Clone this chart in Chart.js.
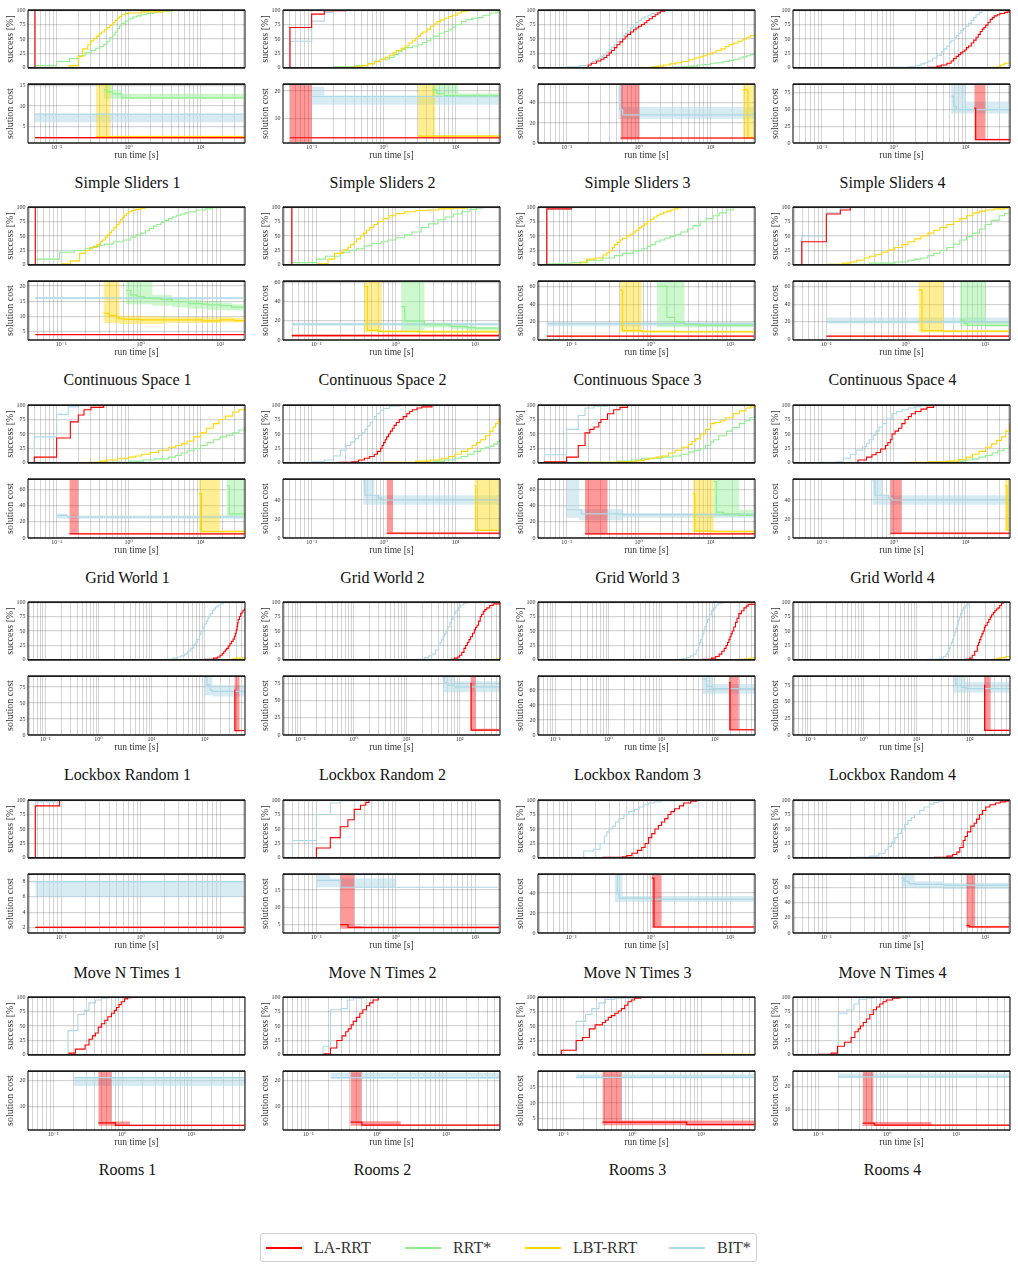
<!DOCTYPE html>
<html><head><meta charset="utf-8">
<script src="https://cdn.jsdelivr.net/npm/chart.js@4.4.1/dist/chart.umd.min.js"></script>
<style>
html,body{margin:0;padding:0;background:#fff;}
body{width:1018px;height:1269px;position:relative;overflow:hidden;font-family:'Liberation Serif','DejaVu Serif',serif;}
canvas{position:absolute;}
.ptitle{position:absolute;width:255px;text-align:center;font-size:16px;line-height:18px;color:#111;}
.legend{position:absolute;left:260px;top:1233px;width:495px;height:27px;border:1px solid #cfcfcf;border-radius:3px;background:#fff;}
.lg-line{position:absolute;top:13px;width:36px;height:2px;}
.lg-text{position:absolute;top:5px;font-size:16px;line-height:18px;color:#333;}
</style></head><body>
<script>
// ---------------- DATA ----------------
// success arrays: [time, success%, ...]; cost arrays: [time, median, low, high, ...]
const seriesNames = ['LA-RRT','RRT*','LBT-RRT','BIT*'];
const panelTitles = ['Simple Sliders 1','Simple Sliders 2','Simple Sliders 3','Simple Sliders 4',
 'Continuous Space 1','Continuous Space 2','Continuous Space 3','Continuous Space 4',
 'Grid World 1','Grid World 2','Grid World 3','Grid World 4',
 'Lockbox Random 1','Lockbox Random 2','Lockbox Random 3','Lockbox Random 4',
 'Move N Times 1','Move N Times 2','Move N Times 3','Move N Times 4',
 'Rooms 1','Rooms 2','Rooms 3','Rooms 4'];
const rowTimeRange = [[0.04,41.4],[0.038,20.6],[0.04,41.4],[0.047,578],[0.038,20.6],[0.043,60.7]];
const successTicks = [0,25,50,75,100];
const xMajorValues = [0.1,1,10,100];
const xMajorLabels = ['10\u207B\u00B9','10\u2070','10\u00B9','10\u00B2'];
const costRange = [[0.9,15.4],[1.1,22.5],[0,58.7],[0,88],
 [2.2,21.6],[0,61.7],[-0.5,66],[-0.5,66],
 [0,73],[0,62],[0,73],[0,62],
 [0,92],[0,85.5],[0,78.7],[0,89],
 [1.25,9],[2.6,19.6],[0,59],[0,77.5],
 [1.1,23.7],[1.1,23.7],[1.5,20],[1,26.7]];
const costTicks = [[5,10,15],[10,20],[0,20,40],[0,25,50,75],
 [5,10,15,20],[0,20,40,60],[0,20,40,60],[0,20,40,60],
 [0,20,40,60],[0,20,40],[0,20,40,60],[0,20,40],
 [0,25,50,75],[0,25,50,75],[0,20,40,60],[0,25,50,75],
 [2,4,6,8],[5,10,15],[0,20,40],[0,20,40,60],
 [10,20],[10,20],[5,10,15],[10,20]];

// Simple Sliders 1
const ss1_succ_la = [0.049,0, 0.05,100, 41,100];
const ss1_succ_rrt = [0.05,4, 0.1,11, 0.15,16, 0.2,21, 0.25,26, 0.3,30, 0.35,34, 0.4,37, 0.45,40, 0.5,46, 0.55,52, 0.6,57, 0.65,62, 0.7,68, 0.75,73, 0.8,77, 0.9,81, 1.0,85, 1.15,88, 1.3,90, 1.5,92, 1.8,94, 2.2,96, 2.5,97, 3,98, 4,100, 41,100];
const ss1_succ_lbt = [0.05,0, 0.15,4, 0.2,20, 0.23,33, 0.27,40, 0.3,47, 0.33,51, 0.36,55, 0.39,59, 0.42,62, 0.46,66, 0.5,70, 0.55,74, 0.6,78, 0.65,82, 0.7,86, 0.75,89, 0.8,92, 0.9,94, 1.0,95, 1.5,97, 3,99, 4,100, 41,100];
const ss1_succ_bit = [0.049,0, 0.05,100, 41,100];
const ss1_cost_la = [0.05,2.2,2.0,2.4, 41,2.2,2.0,2.4];
const ss1_cost_rrt = [0.45,14,11.8,20, 0.5,13.5,11.8,20, 0.6,13,11.8,14, 0.8,12,11.8,13, 41,12,11.8,13];
const ss1_cost_lbt = [0.35,2.5,2.2,20, 0.56,2.5,2.2,2.7, 41,2.5,2.2,2.7];
const ss1_cost_bit = [0.05,8,6,8, 41,8,6,8];
// Simple Sliders 2
const ss2_succ_la = [0.049,0, 0.05,70, 0.1,93, 0.15,99, 0.3,100, 41,100];
const ss2_succ_rrt = [0.05,0, 0.2,2, 0.4,4, 0.6,8, 0.75,12, 0.9,15, 1.2,18, 1.4,23, 1.6,28, 1.8,32, 2.0,35, 2.5,38, 3,40, 3.5,44, 4,47, 4.5,51, 5,55, 6,60, 7,63, 8,66, 9,70, 10,75, 12,80, 14,84, 17,86, 20,87, 24,91, 30,95, 36,96, 41,97];
const ss2_succ_lbt = [0.05,0, 0.3,1, 0.4,2, 0.5,4, 0.6,7, 0.75,11, 0.9,15, 1.05,18, 1.2,22, 1.35,26, 1.5,30, 1.75,34, 2.0,38, 2.25,43, 2.5,47, 2.75,51, 3.0,55, 3.25,59, 3.5,62, 4.0,67, 4.5,72, 5.0,76, 5.5,80, 6.2,83, 7,86, 8,89, 9,91, 10.5,95, 12,98, 15,100, 41,100];
const ss2_succ_bit = [0.049,0, 0.05,46, 0.1,81, 0.15,96, 0.2,100, 41,100];
const ss2_cost_la = [0.05,3,1.5,30, 0.1,3,2.7,3.3, 41,3,2.7,3.3];
const ss2_cost_rrt = [4.7,20.5,17.8,30, 5.5,19,17.8,30, 7,18.3,17.8,30, 10.9,18.3,17.6,19.2, 41,18.3,17.6,19.2];
const ss2_cost_lbt = [3.0,3.6,3.3,30, 5.2,3.6,3.3,3.9, 41,3.6,3.3,3.9];
const ss2_cost_bit = [0.1,18,15,21.5, 0.15,18,15,18.4, 41,18,15,18.4];
// Simple Sliders 3
const ss3_succ_la = [0.05,0, 0.2,5, 0.22,8, 0.26,12, 0.3,15, 0.33,18, 0.36,22, 0.39,26, 0.42,30, 0.46,35, 0.5,40, 0.55,45, 0.6,50, 0.65,54, 0.7,58, 0.77,62, 0.85,66, 0.92,69, 1.0,72, 1.1,75, 1.2,78, 1.3,82, 1.4,85, 1.55,89, 1.7,92, 1.85,95, 2.0,98, 2.3,100, 41,100];
const ss3_succ_rrt = [0.05,0, 3,1, 4,2, 5,3, 6.5,5, 7.8,6, 10,8, 12,9, 15,11, 18,13, 21,15, 25,17, 28,19, 32,21, 36,23, 41,26];
const ss3_succ_lbt = [0.05,0, 1.5,2, 1.8,3, 2.2,5, 2.7,7, 3.3,9, 4,11, 5,14, 6,17, 7,19, 7.8,21, 9,24, 10.5,27, 12,30, 14,33, 16,37, 18,40, 21,43, 24,46, 28,50, 32,53, 36,56, 41,58];
const ss3_succ_bit = [0.05,0, 0.1,2, 0.15,4, 0.2,8, 0.23,11, 0.25,14, 0.28,17, 0.3,20, 0.33,24, 0.36,28, 0.39,32, 0.42,36, 0.46,41, 0.5,46, 0.55,51, 0.6,56, 0.65,60, 0.7,64, 0.77,70, 0.85,75, 0.92,79, 1.0,82, 1.1,85, 1.2,88, 1.35,91, 1.5,94, 1.75,96, 2,97, 2.3,99, 2.7,100, 41,100];
const ss3_cost_la = [0.56,5,3.5,80, 1.03,5,4.3,5.6, 41,5,4.3,5.6];
const ss3_cost_rrt = [];
const ss3_cost_lbt = [28,53,4,80, 33,5,4,80, 41,5,4,80];
const ss3_cost_bit = [0.52,60,24,80, 0.55,33,24,80, 0.6,28,24,36, 41,28,24,36];
// Simple Sliders 4
const ss4_succ_la = [0.05,0, 3,1, 4,3, 4.6,5, 5.5,8, 6.3,12, 6.8,16, 7.4,20, 8,23, 8.5,26, 9,28, 9.6,31, 10.3,35, 11,38, 12,43, 13,48, 14,53, 15,58, 16,63, 17,67, 18,70, 19,74, 20.5,79, 22,84, 23.5,87, 25,90, 27.5,92, 30,94, 35,96, 38,97, 41,98];
const ss4_succ_rrt = [0.05,0, 41,0];
const ss4_succ_lbt = [0.05,0, 22,1, 28,2, 30,3, 31,5, 34,7, 36,8, 41,9];
const ss4_succ_bit = [0.05,0, 0.8,1, 1.6,2, 2,4, 2.4,7, 2.7,9, 3,12, 3.5,17, 4,22, 4.6,28, 5,33, 5.5,38, 6,44, 6.3,47, 7,52, 7.5,56, 8,60, 8.6,65, 9.3,68, 10,72, 11,77, 12,82, 13,87, 14,92, 15.5,96, 17,100, 41,100];
const ss4_cost_la = [13.2,52,4,120, 13.8,5,4,120, 18.9,5,4,6.5, 41,5,4,6.5];
const ss4_cost_rrt = [];
const ss4_cost_lbt = [];
const ss4_cost_bit = [6.3,70,44,120, 6.8,55,44,120, 7.5,50,44,120, 10,50,44,62, 41,50,44,62];
// Continuous Space 1
const cs1_succ_la = [0.046,0, 0.047,100, 20,100];
const cs1_succ_rrt = [0.047,10, 0.095,22, 0.146,25, 0.2,28, 0.25,32, 0.3,34, 0.35,36, 0.45,40, 0.6,43, 0.75,48, 0.87,52, 1.0,55, 1.15,59, 1.3,63, 1.45,67, 1.6,70, 1.8,74, 2.0,77, 2.25,80, 2.5,83, 2.8,86, 3.2,88, 3.6,90, 4,92, 5,95, 6.5,97, 8,99, 10,100, 20,100];
const cs1_succ_lbt = [0.047,0, 0.1,2, 0.13,7, 0.17,20, 0.2,25, 0.23,30, 0.28,35, 0.31,40, 0.33,43, 0.36,48, 0.38,52, 0.41,56, 0.43,60, 0.46,65, 0.5,70, 0.53,74, 0.56,78, 0.59,82, 0.62,86, 0.66,89, 0.7,92, 0.77,94, 0.85,96, 1.0,98, 1.15,100, 20,100];
const cs1_succ_bit = [0.046,0, 0.047,100, 20,100];
const cs1_cost_la = [0.047,4,3.9,4.1, 20,4,3.9,4.1];
const cs1_cost_rrt = [0.65,18.5,14,30, 0.75,17,14,30, 0.9,16.5,14,30, 1.1,16,14,30, 1.4,15.8,13.5,17, 1.8,15.5,13.5,17, 2.5,14.8,13,16, 4,14.2,12.5,15.5, 6,14,12.5,15, 7,13.8,12.2,15, 10,13.5,12,14.5, 14,13,12,14, 20,13,12,14];
const cs1_cost_lbt = [0.34,11,7.8,30, 0.4,10.3,7.8,30, 0.5,9.5,7.8,30, 0.54,9.2,7.5,10.2, 0.6,9,7.5,10.2, 1,8.8,7.5,10, 2,8.8,7.8,9.8, 3,8.8,7.8,9.8, 6,8.5,7.8,9.7, 10,8.8,8,9.7, 15,8.6,8,9.5, 20,8.8,8,9.5];
const cs1_cost_bit = [0.047,16,15.7,16.3, 20,16,15.7,16.3];
// Continuous Space 2
const cs2_succ_la = [0.048,0, 0.049,100, 20,100];
const cs2_succ_rrt = [0.049,4, 0.1,10, 0.13,15, 0.2,22, 0.26,25, 0.32,28, 0.4,33, 0.5,37, 0.65,40, 0.8,43, 1.0,47, 1.3,52, 1.6,57, 2.1,65, 2.6,71, 3.4,78, 4.2,83, 5.3,88, 6.8,92, 8.6,96, 10.5,98, 12.5,100, 20,100];
const cs2_succ_lbt = [0.049,0, 0.105,2, 0.14,10, 0.17,20, 0.22,26, 0.25,30, 0.27,35, 0.3,40, 0.32,45, 0.36,50, 0.39,55, 0.43,60, 0.47,65, 0.53,70, 0.59,75, 0.7,80, 0.82,85, 1.0,89, 1.3,92, 1.8,94, 2.5,95, 3.5,97, 5.3,98, 8,100, 20,100];
const cs2_succ_bit = [0.048,0, 0.049,100, 20,100];
const cs2_cost_la = [0.049,4.5,3.5,6, 20,4.5,3.5,6];
const cs2_cost_rrt = [1.17,35,10,80, 1.3,20,10,80, 2.3,16,13,18, 5,14,11,16, 8,13,10,15, 10,12.5,10,14, 20,12,10,14];
const cs2_cost_lbt = [0.4,56,8,80, 0.44,10,8,80, 0.6,9,8,80, 0.67,9,7.5,10, 2,8.5,7.5,10, 20,8.2,7.5,9.5];
const cs2_cost_bit = [0.049,16.7,15,18, 20,16.7,15,18];
// Continuous Space 3
const cs3_succ_la = [0.048,0, 0.049,97, 0.1,100, 20,100];
const cs3_succ_rrt = [0.049,2, 0.1,4, 0.16,8, 0.25,12, 0.35,16, 0.44,20, 0.6,24, 0.77,28, 0.9,32, 1.0,35, 1.14,40, 1.3,43, 1.5,46, 1.75,49, 2.0,52, 2.4,57, 2.9,62, 3.4,68, 4.2,75, 5,80, 6.1,85, 7.3,90, 9,95, 11,100, 20,100];
const cs3_succ_lbt = [0.049,0, 0.1,1, 0.13,5, 0.156,10, 0.2,12, 0.25,17, 0.28,21, 0.3,25, 0.33,30, 0.35,35, 0.38,39, 0.41,43, 0.44,46, 0.5,50, 0.55,53, 0.6,57, 0.65,60, 0.71,64, 0.77,67, 0.84,71, 0.9,75, 1.0,79, 1.1,83, 1.2,86, 1.3,88, 1.45,91, 1.6,93, 1.8,95, 2.0,97, 2.2,99, 2.4,100, 20,100];
const cs3_succ_bit = [0.048,0, 0.049,96, 0.1,100, 20,100];
const cs3_cost_la = [0.049,3.8,3.3,4.3, 20,3.8,3.3,4.3];
const cs3_cost_rrt = [1.19,60,14,80, 1.6,25,14,80, 2.0,20,14,80, 2.67,17.3,14,18.5, 4,16,14,18, 20,15.5,14,17];
const cs3_cost_lbt = [0.41,56,8,80, 0.44,10,8,80, 0.77,9,8,10.5, 2,8.7,8,10, 20,8.5,8,10];
const cs3_cost_bit = [0.049,18,15,19.5, 20,18,15,19.5];
// Continuous Space 4
const cs4_succ_la = [0.048,0, 0.049,40, 0.1,88, 0.15,95, 0.2,100, 20,100];
const cs4_succ_rrt = [0.049,0, 0.1,1, 0.35,3, 0.73,5, 1.07,8, 1.3,10, 1.55,12, 1.9,16, 2.26,20, 2.7,25, 3.3,30, 4,36, 4.8,43, 5.8,49, 7,55, 8.5,62, 10,70, 12,77, 15,85, 17.5,89, 20,92];
const cs4_succ_lbt = [0.049,0, 0.1,1, 0.16,3, 0.2,5, 0.24,8, 0.3,12, 0.35,15, 0.42,18, 0.5,22, 0.6,26, 0.73,30, 0.9,35, 1.07,40, 1.3,45, 1.55,50, 1.9,55, 2.26,60, 2.7,65, 3.3,70, 4,75, 4.8,80, 5.8,85, 7,90, 8.5,93, 10,95, 13,97, 17.5,98, 20,98];
const cs4_succ_bit = [0.048,0, 0.049,50, 0.1,90, 0.15,98, 0.2,100, 20,100];
const cs4_cost_la = [0.1,3.8,3.3,4.3, 20,3.8,3.3,4.3];
const cs4_cost_rrt = [4.8,22,15,80, 5.5,18,15,80, 6,16,15,80, 10.2,16,14.5,20, 20,16,14.5,20];
const cs4_cost_lbt = [1.45,56,8,80, 1.6,10,8,80, 3.0,9.5,8,10.5, 20,9,8,10];
const cs4_cost_bit = [0.1,20,18,25, 20,20,18,25];
// Grid World 1
const gw1_succ_la = [0.048,0, 0.049,10, 0.1,43, 0.155,71, 0.2,83, 0.24,92, 0.3,96, 0.45,100, 41,100];
const gw1_succ_rrt = [0.049,0, 0.45,1, 1.0,3, 1.6,5, 2.3,7, 3.6,10, 4.5,13, 5.4,17, 6.5,21, 8.1,25, 10,30, 12.3,35, 15,40, 18.6,45, 23,48, 28,52, 34,57, 41,62];
const gw1_succ_lbt = [0.049,0, 0.27,1, 0.4,3, 0.5,5, 0.7,8, 1.0,10, 1.25,12, 1.5,15, 2.0,18, 2.6,22, 3.6,27, 4.5,30, 5.4,33, 6.5,38, 8.1,45, 10,52, 12,60, 15,68, 18,75, 22,81, 28,88, 34,92, 41,95];
const gw1_succ_bit = [0.048,0, 0.049,45, 0.1,84, 0.145,97, 0.2,100, 41,100];
const gw1_cost_la = [0.15,5,4.5,100, 0.2,5,4.5,5.5, 41,5,4.5,5.5];
const gw1_cost_rrt = [23,65,27,100, 25,30,27,100, 41,28,27,100];
const gw1_cost_lbt = [9.5,55,7,100, 10.3,8,7,100, 18.6,8,7,9.5, 41,8,7,9.5];
const gw1_cost_bit = [0.1,28,24,30, 0.14,26,24,28, 41,26,24,28];
// Grid World 2
const gw2_succ_la = [0.049,0, 0.24,1, 0.36,2, 0.45,5, 0.54,8, 0.64,11, 0.74,15, 0.82,20, 0.91,25, 0.95,30, 1.0,35, 1.05,40, 1.1,45, 1.17,50, 1.24,55, 1.32,60, 1.4,65, 1.5,70, 1.65,75, 1.87,80, 2.1,85, 2.3,89, 2.5,92, 2.9,95, 3.4,97, 4.7,100, 41,100];
const gw2_succ_rrt = [0.049,0, 2.8,1, 5,3, 7,5, 9.8,8, 12,11, 14.8,15, 18,20, 22.4,25, 26,27, 30,29, 34,33, 38,37, 41,40];
const gw2_succ_lbt = [0.049,0, 1.0,1, 2.8,3, 4.5,5, 6.4,8, 8,11, 9.8,15, 12,20, 14.8,25, 17,30, 19.5,35, 22,40, 26,47, 30,55, 33,62, 36,68, 39,73, 41,78];
const gw2_succ_bit = [0.049,0, 0.1,2, 0.15,5, 0.2,12, 0.25,22, 0.3,30, 0.35,36, 0.4,42, 0.45,47, 0.5,52, 0.55,58, 0.6,64, 0.65,70, 0.7,75, 0.75,80, 0.8,85, 0.9,91, 1.0,94, 1.2,98, 1.7,100, 41,100];
const gw2_cost_la = [1.1,5,4,100, 1.35,5,4,6, 41,5,4,6];
const gw2_cost_rrt = [];
const gw2_cost_lbt = [18.3,55,7,100, 19,8,7,100, 41,7.7,7,100];
const gw2_cost_bit = [0.52,60,35,100, 0.55,45,35,100, 0.74,45,35,45, 0.85,42,35,45, 0.95,40,35,45, 41,40,35,45];
// Grid World 3
const gw3_succ_la = [0.048,0, 0.049,2, 0.1,10, 0.145,30, 0.18,52, 0.21,58, 0.24,62, 0.28,70, 0.3,75, 0.37,85, 0.45,92, 0.55,96, 0.7,100, 41,100];
const gw3_succ_rrt = [0.049,0, 0.145,1, 0.5,3, 0.8,5, 1.1,8, 2.1,10, 3,12, 3.9,15, 5,19, 6,22, 7.3,25, 8.5,30, 10,36, 11,40, 13,47, 16.7,55, 20,61, 25,68, 30,73, 35,78, 41,82];
const gw3_succ_lbt = [0.049,0, 0.145,1, 0.5,2, 0.93,4, 1.2,6, 1.4,8, 1.75,10, 2.1,12, 2.6,17, 3.2,22, 4,27, 4.9,32, 5.5,37, 6.2,42, 7.3,50, 8.5,58, 10,68, 11.5,70, 13.6,73, 16,78, 20.6,85, 25,90, 31,95, 36,97, 41,98];
const gw3_succ_bit = [0.048,0, 0.049,14, 0.1,58, 0.145,82, 0.18,95, 0.24,98, 0.37,100, 41,100];
const gw3_cost_la = [0.18,5,4.5,100, 0.37,5,4.5,5.5, 41,5,4.5,5.5];
const gw3_cost_rrt = [11,70,27,100, 12,32,27,100, 15,30,27,100, 25,28,27,35, 41,28,27,35];
const gw3_cost_lbt = [5.7,55,7,100, 6,8.5,7,100, 11,8,7,9.5, 41,8,7,9.5];
const gw3_cost_bit = [0.1,35,25,100, 0.15,35,22,36, 0.16,30,22,36, 0.6,29,25,31, 41,28,25,31];
// Grid World 4
const gw4_succ_la = [0.049,0, 0.32,5, 0.42,10, 0.5,14, 0.57,18, 0.66,24, 0.77,30, 0.83,35, 0.9,40, 0.95,50, 1.05,55, 1.17,60, 1.3,68, 1.44,75, 1.6,80, 1.76,85, 2.0,89, 2.4,93, 2.9,96, 3.6,100, 41,100];
const gw4_succ_rrt = [0.049,0, 5.5,1, 8,3, 10,5, 12.5,7, 15.4,10, 19,13, 23.4,17, 28,21, 34,25, 41,30];
const gw4_succ_lbt = [0.049,0, 1.6,1, 3,2, 5.5,3, 8,6, 10.2,10, 12.5,15, 15.4,20, 19,27, 23,33, 27,39, 31.6,45, 36,55, 41,68];
const gw4_succ_bit = [0.049,0, 0.1,1, 0.16,2, 0.2,8, 0.25,15, 0.3,22, 0.37,28, 0.42,34, 0.46,40, 0.52,48, 0.57,55, 0.63,62, 0.7,68, 0.8,76, 0.95,85, 1.1,89, 1.3,92, 1.6,95, 1.95,97, 2.4,99, 2.95,100, 41,100];
const gw4_cost_la = [0.9,5,4,100, 1.3,5,4,6, 41,5,4,6];
const gw4_cost_rrt = [];
const gw4_cost_lbt = [35,55,7,100, 37.5,8.5,7,100, 41,8.5,7,100];
const gw4_cost_bit = [0.51,60,35,100, 0.55,45,35,100, 0.7,45,35,45, 0.85,42,35,45, 0.95,40,35,45, 41,40,35,45];
// Lockbox Random 1
const lr1_succ_la = [0.047,0, 100,1, 148,3, 175,5, 196,8, 215,11, 230,14, 245,17, 260,20, 280,24, 300,28, 320,32, 345,36, 365,41, 380,46, 395,52, 410,58, 420,64, 430,70, 455,75, 480,80, 505,83, 530,86, 565,89];
const lr1_succ_rrt = [0.047,0, 565,0];
const lr1_succ_lbt = [0.047,0, 300,1, 340,2, 380,3, 565,4];
const lr1_succ_bit = [0.047,0, 18,1, 25,3, 31,5, 36,7, 42,10, 48,15, 55,20, 62,26, 68,30, 73,35, 80,43, 85,50, 92,56, 100,62, 108,67, 115,72, 122,76, 128,80, 140,85, 150,88, 160,91, 171,93, 185,95, 200,97, 225,100, 565,100];
const lr1_cost_la = [364,70,5,150, 372,7,5,150, 455,7,6,8, 565,7,6,8];
const lr1_cost_rrt = [];
const lr1_cost_lbt = [];
const lr1_cost_bit = [98,90,62,150, 110,78,62,150, 128,70,62,150, 140,68,60,78, 565,68,60,78];
// Lockbox Random 2
const lr2_succ_la = [0.047,0, 69,1, 80,3, 92,5, 100,8, 110,13, 121,20, 130,25, 140,30, 150,35, 160,40, 175,46, 190,52, 200,56, 213,60, 228,67, 245,75, 260,79, 280,84, 300,87, 325,90, 370,94, 430,97, 565,98];
const lr2_succ_rrt = [0.047,0, 565,0];
const lr2_succ_lbt = [0.047,0, 430,1, 500,2, 565,3];
const lr2_succ_bit = [0.047,0, 15,1, 22,4, 26,7, 30,10, 35,17, 40,25, 43,30, 46,35, 49,40, 52,45, 56,51, 60,57, 66,65, 70,70, 75,75, 80,80, 85,85, 95,91, 105,95, 120,98, 140,100, 565,100];
const lr2_cost_la = [160,75,6,150, 165,7,6,150, 200,7,6,9, 565,7,6,9];
const lr2_cost_rrt = [];
const lr2_cost_lbt = [];
const lr2_cost_bit = [48,84,62,150, 52,76,62,150, 60,72,62,150, 80,70,62,78, 565,70,62,78];
// Lockbox Random 3
const lr3_succ_la = [0.047,0, 60,1, 87,3, 105,6, 122,10, 137,15, 152,20, 165,25, 176,30, 186,35, 195,40, 205,45, 215,50, 230,57, 248,65, 265,72, 286,80, 320,85, 358,90, 395,93, 430,96, 565,97];
const lr3_succ_rrt = [0.047,0, 565,0];
const lr3_succ_lbt = [0.047,0, 248,1, 375,2, 470,3, 565,4];
const lr3_succ_bit = [0.047,0, 19.5,1, 25,2, 30,4, 35,7, 40,10, 45,17, 49.5,25, 52,30, 55,35, 58,40, 60,45, 63,52, 66,58, 70,65, 73,70, 80,78, 87,85, 95,90, 106,95, 120,98, 141,100, 565,100];
const lr3_cost_la = [186,70,6,150, 195,7,6,150, 286,7,6,8, 565,7,6,8];
const lr3_cost_rrt = [];
const lr3_cost_lbt = [];
const lr3_cost_bit = [60,75,55,150, 70,65,55,150, 90,62,55,68, 565,62,55,68];
// Lockbox Random 4
const lr4_succ_la = [0.047,0, 85,1, 100,3, 112,8, 125,15, 140,25, 148,30, 155,35, 163,40, 171,45, 180,50, 190,56, 197,60, 215,65, 230,70, 245,74, 260,78, 280,82, 300,85, 320,88, 343,90, 370,94, 398,98, 430,100, 565,100];
const lr4_succ_rrt = [0.047,0, 565,0];
const lr4_succ_lbt = [0.047,0, 260,1, 330,3, 398,4, 480,6, 565,7];
const lr4_succ_bit = [0.047,0, 15.7,1, 27.5,3, 32,6, 36,10, 39,15, 41,20, 43,25, 45.6,30, 48,36, 50,42, 53,48, 55.5,55, 58,61, 61,68, 64,74, 67.6,80, 72,86, 76,90, 85,95, 98,100, 565,100];
const lr4_cost_la = [187,75,6,150, 192,7,6,150, 250,7,6,8, 565,7,6,8];
const lr4_cost_rrt = [];
const lr4_cost_lbt = [];
const lr4_cost_bit = [51,85,64,150, 55,75,64,150, 70,72,64,150, 85,70,64,80, 565,70,64,80];
// Move N Times 1
const mn1_succ_la = [0.046,0, 0.047,90, 0.095,100, 20,100];
const mn1_succ_rrt = [0.047,0, 20,0];
const mn1_succ_lbt = [0.047,0, 20,0];
const mn1_succ_bit = [0.046,0, 0.047,97, 0.095,100, 20,100];
const mn1_cost_la = [0.047,2,1.9,2.1, 20,2,1.9,2.1];
const mn1_cost_rrt = [];
const mn1_cost_lbt = [];
const mn1_cost_bit = [0.047,8,6,8, 20,8,6,8];
// Move N Times 2
const mn2_succ_la = [0.049,0, 0.1,17, 0.15,35, 0.2,54, 0.25,66, 0.3,84, 0.36,91, 0.42,96, 0.46,100, 20,100];
const mn2_succ_rrt = [0.049,0, 20,0];
const mn2_succ_lbt = [0.049,0, 20,0];
const mn2_succ_bit = [0.049,0, 0.05,30, 0.1,75, 0.15,95, 0.2,99, 0.29,100, 20,100];
const mn2_cost_la = [0.2,5,3.8,25, 0.25,4.2,3.8,25, 0.3,4.2,3.8,4.6, 0.37,4.2,3.9,4.4, 20,4.2,3.9,4.4];
const mn2_cost_rrt = [];
const mn2_cost_lbt = [];
const mn2_cost_bit = [0.1,17.8,15.8,21, 0.15,17.8,15.8,18.3, 0.2,15.8,15.8,18.3, 1.02,15.8,15.7,15.9, 20,15.8,15.7,15.9];
// Move N Times 3
const mn3_succ_la = [0.049,0, 0.25,1, 0.44,2, 0.5,4, 0.58,8, 0.68,13, 0.77,18, 0.85,25, 0.94,35, 1.03,42, 1.13,50, 1.25,56, 1.37,62, 1.5,68, 1.65,75, 1.8,80, 2.0,85, 2.3,90, 2.6,95, 3.2,98, 3.8,100, 20,100];
const mn3_succ_rrt = [0.049,0, 20,0];
const mn3_succ_lbt = [0.049,0, 20,0];
const mn3_succ_bit = [0.049,0, 0.143,12, 0.19,15, 0.23,25, 0.26,38, 0.28,45, 0.3,50, 0.33,55, 0.36,62, 0.4,68, 0.46,75, 0.53,80, 0.62,84, 0.71,88, 0.82,92, 0.94,95, 1.1,97, 1.37,99, 2,100, 20,100];
const mn3_cost_la = [1.03,55,5,90, 1.1,6,5,90, 1.37,6,5,7, 20,6,5,7];
const mn3_cost_rrt = [];
const mn3_cost_lbt = [];
const mn3_cost_bit = [0.35,60,31,90, 0.38,40,31,90, 0.4,35,31,90, 0.44,35,31,37, 1,34,31,37, 20,33.5,31,36];
// Move N Times 4
const mn4_succ_la = [0.049,0, 2.3,1, 3.3,3, 3.9,6, 4.4,10, 4.8,18, 5.3,30, 5.6,37, 6,45, 6.6,55, 7.3,60, 7.8,67, 8.5,75, 9.3,82, 10.2,88, 11.5,92, 13.5,95, 15.5,97, 18,98, 20,98];
const mn4_succ_rrt = [0.049,0, 20,0];
const mn4_succ_lbt = [0.049,0, 20,0];
const mn4_succ_bit = [0.049,0, 0.24,1, 0.35,3, 0.46,8, 0.55,14, 0.6,20, 0.66,27, 0.73,35, 0.8,42, 0.88,50, 0.97,58, 1.07,65, 1.18,70, 1.29,75, 1.5,82, 1.7,88, 2.0,93, 2.26,96, 2.6,98, 3,100, 20,100];
const mn4_cost_la = [5.8,10,7,90, 6.3,8,7,90, 7.5,8,7,9, 20,8,7,9];
const mn4_cost_rrt = [];
const mn4_cost_lbt = [];
const mn4_cost_bit = [0.88,72,60,78, 0.95,68,60,78, 1.1,65,60,78, 1.3,64,59,68, 3,63,58,66, 20,62,58,66];
// Rooms 1
const r1_succ_la = [0.045,0, 0.17,3, 0.21,10, 0.29,17, 0.33,27, 0.37,33, 0.41,38, 0.45,48, 0.5,54, 0.56,60, 0.62,66, 0.7,72, 0.77,77, 0.83,82, 0.9,87, 0.97,92, 1.08,97, 1.2,99, 1.34,100, 60,100];
const r1_succ_rrt = [0.045,0, 60,0];
const r1_succ_lbt = [0.045,0, 60,0];
const r1_succ_bit = [0.045,0, 0.164,42, 0.227,70, 0.28,77, 0.33,90, 0.41,95, 0.5,98, 0.63,100, 60,100];
const r1_cost_la = [0.45,3.8,2.7,30, 0.7,3.8,2.7,4.4, 0.8,2.9,2.7,4.4, 1.3,2.9,2.8,3.1, 60,2.9,2.8,3.1];
const r1_cost_rrt = [];
const r1_cost_lbt = [];
const r1_cost_bit = [0.2,21.2,18,21.5, 60,21.2,18,21.5];
// Rooms 2
const r2_succ_la = [0.045,0, 0.17,2, 0.21,12, 0.26,25, 0.31,33, 0.35,40, 0.38,45, 0.42,52, 0.45,58, 0.5,65, 0.56,72, 0.62,78, 0.7,85, 0.78,90, 0.87,95, 1.04,100, 60,100];
const r2_succ_rrt = [0.045,0, 60,0];
const r2_succ_lbt = [0.045,0, 60,0];
const r2_succ_bit = [0.045,0, 0.164,15, 0.21,78, 0.3,80, 0.37,95, 0.45,98, 0.63,100, 60,100];
const r2_cost_la = [0.41,4.1,2.7,30, 0.59,4.1,2.7,4.5, 0.6,3,2.7,4.5, 2.2,3,2.8,3.1, 60,3,2.8,3.1];
const r2_cost_rrt = [];
const r2_cost_lbt = [];
const r2_cost_bit = [0.21,21.2,20.8,23, 60,21.2,20.8,23];
// Rooms 3
const r3_succ_la = [0.045,0, 0.094,8, 0.154,25, 0.19,30, 0.24,45, 0.29,52, 0.37,56, 0.41,60, 0.45,65, 0.5,68, 0.56,72, 0.63,76, 0.7,80, 0.78,86, 0.87,92, 0.97,95, 1.08,98, 1.34,100, 60,100];
const r3_succ_rrt = [0.045,0, 60,0];
const r3_succ_lbt = [0.045,0, 10.4,1, 60,1];
const r3_succ_bit = [0.045,0, 0.154,58, 0.21,70, 0.26,80, 0.33,90, 0.41,96, 0.56,98, 0.97,100, 60,100];
const r3_cost_la = [0.37,4,3,30, 0.7,4,3,4.5, 6.2,3.2,3,4.5, 60,3.2,3,4.3];
const r3_cost_rrt = [];
const r3_cost_lbt = [];
const r3_cost_bit = [0.154,18,17.7,19, 60,18,17.7,19];
// Rooms 4
const r4_succ_la = [0.045,0, 0.1,1, 0.154,3, 0.19,15, 0.24,22, 0.3,30, 0.34,40, 0.38,45, 0.41,50, 0.45,56, 0.5,62, 0.56,70, 0.63,78, 0.7,83, 0.78,88, 0.87,92, 0.97,95, 1.2,98, 1.5,99, 1.6,100, 60,100];
const r4_succ_rrt = [0.045,0, 60,0];
const r4_succ_lbt = [0.045,0, 60,0];
const r4_succ_bit = [0.045,0, 0.195,72, 0.26,78, 0.33,88, 0.39,96, 0.5,98, 0.63,100, 60,100];
const r4_cost_la = [0.44,4,2.7,30, 0.63,4,2.7,4.5, 0.65,3.1,2.7,4.5, 4.4,3.1,2.8,3.3, 60,3.1,2.8,3.3];
const r4_cost_rrt = [];
const r4_cost_lbt = [];
const r4_cost_bit = [0.195,24.2,23.8,25.6, 60,24.2,23.8,25.6];

// ---------------- TABLE ----------------
function P(sl,sr,sy,sb,cl,cr,cy,cb){return {succ:{la:sl,rrt:sr,lbt:sy,bit:sb},cost:{la:cl,rrt:cr,lbt:cy,bit:cb}};}
const panels = [
 P(ss1_succ_la,ss1_succ_rrt,ss1_succ_lbt,ss1_succ_bit,ss1_cost_la,ss1_cost_rrt,ss1_cost_lbt,ss1_cost_bit),
 P(ss2_succ_la,ss2_succ_rrt,ss2_succ_lbt,ss2_succ_bit,ss2_cost_la,ss2_cost_rrt,ss2_cost_lbt,ss2_cost_bit),
 P(ss3_succ_la,ss3_succ_rrt,ss3_succ_lbt,ss3_succ_bit,ss3_cost_la,ss3_cost_rrt,ss3_cost_lbt,ss3_cost_bit),
 P(ss4_succ_la,ss4_succ_rrt,ss4_succ_lbt,ss4_succ_bit,ss4_cost_la,ss4_cost_rrt,ss4_cost_lbt,ss4_cost_bit),
 P(cs1_succ_la,cs1_succ_rrt,cs1_succ_lbt,cs1_succ_bit,cs1_cost_la,cs1_cost_rrt,cs1_cost_lbt,cs1_cost_bit),
 P(cs2_succ_la,cs2_succ_rrt,cs2_succ_lbt,cs2_succ_bit,cs2_cost_la,cs2_cost_rrt,cs2_cost_lbt,cs2_cost_bit),
 P(cs3_succ_la,cs3_succ_rrt,cs3_succ_lbt,cs3_succ_bit,cs3_cost_la,cs3_cost_rrt,cs3_cost_lbt,cs3_cost_bit),
 P(cs4_succ_la,cs4_succ_rrt,cs4_succ_lbt,cs4_succ_bit,cs4_cost_la,cs4_cost_rrt,cs4_cost_lbt,cs4_cost_bit),
 P(gw1_succ_la,gw1_succ_rrt,gw1_succ_lbt,gw1_succ_bit,gw1_cost_la,gw1_cost_rrt,gw1_cost_lbt,gw1_cost_bit),
 P(gw2_succ_la,gw2_succ_rrt,gw2_succ_lbt,gw2_succ_bit,gw2_cost_la,gw2_cost_rrt,gw2_cost_lbt,gw2_cost_bit),
 P(gw3_succ_la,gw3_succ_rrt,gw3_succ_lbt,gw3_succ_bit,gw3_cost_la,gw3_cost_rrt,gw3_cost_lbt,gw3_cost_bit),
 P(gw4_succ_la,gw4_succ_rrt,gw4_succ_lbt,gw4_succ_bit,gw4_cost_la,gw4_cost_rrt,gw4_cost_lbt,gw4_cost_bit),
 P(lr1_succ_la,lr1_succ_rrt,lr1_succ_lbt,lr1_succ_bit,lr1_cost_la,lr1_cost_rrt,lr1_cost_lbt,lr1_cost_bit),
 P(lr2_succ_la,lr2_succ_rrt,lr2_succ_lbt,lr2_succ_bit,lr2_cost_la,lr2_cost_rrt,lr2_cost_lbt,lr2_cost_bit),
 P(lr3_succ_la,lr3_succ_rrt,lr3_succ_lbt,lr3_succ_bit,lr3_cost_la,lr3_cost_rrt,lr3_cost_lbt,lr3_cost_bit),
 P(lr4_succ_la,lr4_succ_rrt,lr4_succ_lbt,lr4_succ_bit,lr4_cost_la,lr4_cost_rrt,lr4_cost_lbt,lr4_cost_bit),
 P(mn1_succ_la,mn1_succ_rrt,mn1_succ_lbt,mn1_succ_bit,mn1_cost_la,mn1_cost_rrt,mn1_cost_lbt,mn1_cost_bit),
 P(mn2_succ_la,mn2_succ_rrt,mn2_succ_lbt,mn2_succ_bit,mn2_cost_la,mn2_cost_rrt,mn2_cost_lbt,mn2_cost_bit),
 P(mn3_succ_la,mn3_succ_rrt,mn3_succ_lbt,mn3_succ_bit,mn3_cost_la,mn3_cost_rrt,mn3_cost_lbt,mn3_cost_bit),
 P(mn4_succ_la,mn4_succ_rrt,mn4_succ_lbt,mn4_succ_bit,mn4_cost_la,mn4_cost_rrt,mn4_cost_lbt,mn4_cost_bit),
 P(r1_succ_la,r1_succ_rrt,r1_succ_lbt,r1_succ_bit,r1_cost_la,r1_cost_rrt,r1_cost_lbt,r1_cost_bit),
 P(r2_succ_la,r2_succ_rrt,r2_succ_lbt,r2_succ_bit,r2_cost_la,r2_cost_rrt,r2_cost_lbt,r2_cost_bit),
 P(r3_succ_la,r3_succ_rrt,r3_succ_lbt,r3_succ_bit,r3_cost_la,r3_cost_rrt,r3_cost_lbt,r3_cost_bit),
 P(r4_succ_la,r4_succ_rrt,r4_succ_lbt,r4_succ_bit,r4_cost_la,r4_cost_rrt,r4_cost_lbt,r4_cost_bit)
];

// ---------------- STYLE ----------------
const FONT = "'Liberation Serif','DejaVu Serif',serif";
const ALGS = ['la','rrt','lbt','bit'];
const LINE_COLORS = {la:'rgb(255,0,0)', rrt:'rgb(144,238,144)', lbt:'rgb(255,215,0)', bit:'rgb(173,216,230)'};
const BAND_COLORS = {la:'rgba(255,0,0,0.4)', rrt:'rgba(144,238,144,0.45)', lbt:'rgba(255,215,0,0.42)', bit:'rgba(173,216,230,0.5)'};
const DRAW_ORDER = {la:1, lbt:2, rrt:3, bit:4};
const GRID_COLOR = 'rgba(0,0,0,0.17)';
const TEXT_COLOR = '#333';

function toPoints(flat){const o=[];for(let i=0;i<flat.length;i+=2)o.push({x:flat[i],y:flat[i+1]});return o;}
function toCol(flat,k){const o=[];for(let i=0;i<flat.length;i+=4)o.push({x:flat[i],y:flat[i+k]});return o;}
function logGrid(min,max){const v=[];for(let e=Math.floor(Math.log10(min));e<=Math.ceil(Math.log10(max));e++){for(let m=1;m<=9;m++){const t=m*Math.pow(10,e);if(t>min*1.0001&&t<max*0.9999)v.push(t);}}return v;}
function xLabel(v){for(let i=0;i<xMajorValues.length;i++){if(Math.abs(v/xMajorValues[i]-1)<1e-6)return xMajorLabels[i];}return '';}

const framePlugin = {id:'frame', afterDatasetsDraw(chart){const {ctx,chartArea:a}=chart;ctx.save();ctx.strokeStyle='#1a1a1a';
  ctx.lineWidth=1.6;ctx.beginPath();ctx.moveTo(a.left,a.top);ctx.lineTo(a.right,a.top);ctx.moveTo(a.left,a.bottom);ctx.lineTo(a.right,a.bottom);ctx.stroke();
  ctx.lineWidth=1.1;ctx.beginPath();ctx.moveTo(a.left,a.top);ctx.lineTo(a.left,a.bottom);ctx.moveTo(a.right,a.top);ctx.lineTo(a.right,a.bottom);ctx.stroke();
  ctx.restore();}};

function xScale(xr, showTicks){
  return {type:'logarithmic', min:xr[0], max:xr[1],
    afterBuildTicks:s=>{s.ticks=logGrid(xr[0],xr[1]).map(v=>({value:v}));},
    afterFit:s=>{s.height=showTicks?18:4;},
    ticks:{display:showTicks, autoSkip:false, maxRotation:0, minRotation:0, padding:1, color:TEXT_COLOR, font:{family:FONT,size:6}, callback:v=>xLabel(v)},
    grid:{color:GRID_COLOR, lineWidth:1, drawTicks:false},
    border:{display:false},
    title:{display:showTicks, text:'run time [s]', color:TEXT_COLOR, font:{family:FONT,size:9.5}, padding:{top:0,bottom:0}}
  };
}
function yScale(min,max,ticks,title){
  return {type:'linear', min:min, max:max,
    afterBuildTicks:s=>{s.ticks=ticks.map(v=>({value:v}));},
    afterFit:s=>{s.width=28;},
    ticks:{padding:2.5, color:TEXT_COLOR, font:{family:FONT,size:6}, autoSkip:false},
    grid:{color:GRID_COLOR, lineWidth:1.2, drawTicks:false},
    border:{display:false},
    title:{display:true, text:title, color:TEXT_COLOR, font:{family:FONT,size:10}, padding:{top:4,bottom:0}}
  };
}
function baseOptions(scales){
  return {animation:false, responsive:false, maintainAspectRatio:false, events:[],
    layout:{padding:{top:4,right:10,left:0,bottom:0}},
    plugins:{legend:{display:false}, tooltip:{enabled:false}},
    elements:{point:{radius:0}}, scales:scales};
}
function addCanvas(left,top,w,h){const c=document.createElement('canvas');c.width=w;c.height=h;c.style.left=left+'px';c.style.top=top+'px';c.style.width=w+'px';c.style.height=h+'px';document.body.appendChild(c);return c;}

panels.forEach((p,idx)=>{
  const r=Math.floor(idx/4), c=idx%4;
  const colBase=255*c, rowBase=Math.round(197.4*r);
  const xr=rowTimeRange[r];
  // success
  const sDs=ALGS.map(a=>({data:toPoints(p.succ[a]), borderColor:LINE_COLORS[a], borderWidth:1.1, pointRadius:0, stepped:true, fill:false, order:DRAW_ORDER[a]}));
  new Chart(addCanvas(colBase,rowBase+4,255,70),{type:'line',data:{datasets:sDs},
    options:baseOptions({x:xScale(xr,false), y:yScale(0,100,successTicks,'success [%]')}), plugins:[framePlugin]});
  // cost
  const cDs=[];
  ALGS.forEach(a=>{
    const arr=p.cost[a]; if(!arr.length) return;
    cDs.push({data:toCol(arr,3), borderWidth:0, borderColor:'rgba(0,0,0,0)', pointRadius:0, stepped:true, fill:'+1', backgroundColor:BAND_COLORS[a], order:10+DRAW_ORDER[a]});
    cDs.push({data:toCol(arr,2), borderWidth:0, borderColor:'rgba(0,0,0,0)', pointRadius:0, stepped:true, fill:false, order:10+DRAW_ORDER[a]});
    cDs.push({data:toCol(arr,1), borderColor:LINE_COLORS[a], borderWidth:1.2, pointRadius:0, stepped:true, fill:false, order:DRAW_ORDER[a]});
  });
  new Chart(addCanvas(colBase,rowBase+78,255,83),{type:'line',data:{datasets:cDs},
    options:baseOptions({x:xScale(xr,true), y:yScale(costRange[idx][0],costRange[idx][1],costTicks[idx],'solution cost')}), plugins:[framePlugin]});
  // title
  const t=document.createElement('div'); t.className='ptitle'; t.textContent=panelTitles[idx];
  t.style.left=colBase+'px'; t.style.top=(rowBase+174)+'px'; document.body.appendChild(t);
});

// legend
const lg=document.createElement('div'); lg.className='legend'; document.body.appendChild(lg);
const lgLineX=[5,144,264,408], lgTextX=[53,192,312,456];
ALGS.forEach((a,i)=>{
  const l=document.createElement('div'); l.className='lg-line'; l.style.left=lgLineX[i]+'px'; l.style.background=LINE_COLORS[a]; lg.appendChild(l);
  const s=document.createElement('div'); s.className='lg-text'; s.style.left=lgTextX[i]+'px'; s.textContent=seriesNames[i]; lg.appendChild(s);
});
</script>
</body></html>
